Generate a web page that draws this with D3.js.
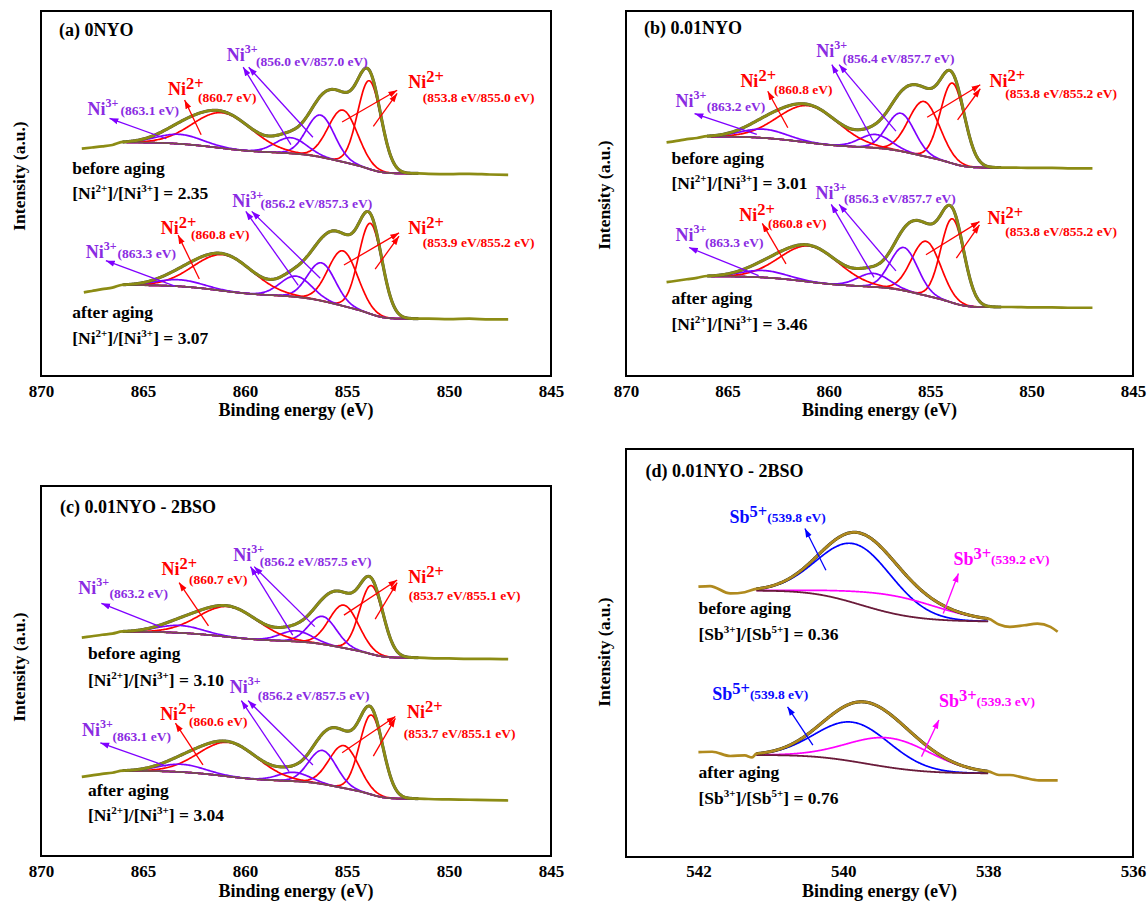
<!DOCTYPE html>
<html>
<head>
<meta charset="utf-8">
<script src="https://cdn.jsdelivr.net/npm/d3@7"></script>
<style>
  body { margin: 0; background: #fff; }
  svg { display: block; }
  svg text { font-family: "Liberation Serif", "Times New Roman", serif; font-weight: bold; }
</style>
</head>
<body>
<svg id="chart" width="1148" height="904" font-family="Liberation Serif, Times New Roman, serif" font-weight="bold"></svg>
<script>
// ---- data ----------------------------------------------------------------
const niTicks = [870, 865, 860, 855, 850, 845];
const sbTicks = [542, 540, 538, 536];
const titles = ["(a) 0NYO", "(b) 0.01NYO", "(c) 0.01NYO - 2BSO", "(d) 0.01NYO - 2BSO"];
const ratioValues = [["2.35", "3.07"], ["3.01", "3.46"], ["3.10", "3.04"], ["0.36", "0.76"]];

// fitted components: [centre eV, height above background, FWHM eV, species]
// bg: Shirley end levels [low-BE side, high-BE side]; left/right: raw tails [eV, intensity]
const aBeforePeaks = [[853.9, 24.2, 1.35, "Ni2+"], [855.2, 14.2, 1.7, "Ni2+"], [856.3, 11.5, 1.6, "Ni3+"], [857.75, 4.3, 1.8, "Ni3+"], [861.1, 9.7, 3.4, "Ni2+"], [863.2, 2.6, 2.6, "Ni3+"]];
const aBeforeBg = [55.5, 64.0];
const aBeforeLeft = [[868, 62.3], [867.5, 62.6], [867, 62.9], [866.5, 63.3]];
const aBeforeRight = [[851, 55.4], [850, 55.3], [849, 55.4], [848, 55.2], [847.1, 55.1]];

const aAfterPeaks = [[853.85, 24.8, 1.35, "Ni2+"], [855.2, 15.1, 1.7, "Ni2+"], [856.25, 10.4, 1.6, "Ni3+"], [857.5, 5.7, 1.8, "Ni3+"], [861.05, 9.9, 3.4, "Ni2+"], [863.2, 1.8, 2.6, "Ni3+"]];
const aAfterBg = [15.7, 24.9];
const aAfterLeft = [[867.9, 22.9], [867.5, 23.3], [867, 23.8], [866.5, 24.2]];
const aAfterRight = [[851, 15.7], [850, 15.6], [849, 15.7], [848, 15.5], [847.1, 15.5]];

const bBeforePeaks = [[853.9, 22.0, 1.4, "Ni2+"], [855.3, 15.0, 1.8, "Ni2+"], [856.45, 10.4, 1.6, "Ni3+"], [857.7, 3.7, 1.8, "Ni3+"], [861.0, 10.1, 3.5, "Ni2+"], [863.2, 2.4, 2.6, "Ni3+"]];
const bBeforeBg = [57.1, 65.6];
const bBeforeLeft = [[868, 64.0], [867.5, 64.4], [867, 64.9], [866.5, 65.2]];
const bBeforeRight = [[851, 57.1], [850, 57.0], [849, 57.0], [848, 56.9], [847, 56.9]];

const bAfterPeaks = [[853.9, 23.0, 1.35, "Ni2+"], [855.2, 14.9, 1.7, "Ni2+"], [856.3, 11.8, 1.6, "Ni3+"], [857.8, 3.7, 1.8, "Ni3+"], [860.95, 9.8, 3.4, "Ni2+"], [863.2, 1.9, 2.6, "Ni3+"]];
const bAfterBg = [18.9, 27.3];
const bAfterLeft = [[868, 25.7], [867.5, 26.1], [867, 26.5], [866.5, 26.9]];
const bAfterRight = [[851, 18.9], [850, 18.8], [849, 18.8], [848, 18.7], [847, 18.7]];

const cBeforePeaks = [[853.8, 18.5, 1.35, "Ni2+"], [855.15, 11.6, 1.7, "Ni2+"], [856.2, 7.5, 1.6, "Ni3+"], [857.5, 2.9, 1.8, "Ni3+"], [860.8, 8.2, 3.4, "Ni2+"], [863.2, 2.0, 2.6, "Ni3+"]];
const cBeforeBg = [53.6, 60.6];
const cBeforeLeft = [[868, 59.0], [867.5, 59.4], [867, 59.8], [866.5, 60.1]];
const cBeforeRight = [[851, 53.5], [850, 53.4], [849, 53.3], [848, 53.3], [847.1, 53.2]];

const cAfterPeaks = [[853.8, 21.5, 1.35, "Ni2+"], [855.15, 11.5, 1.7, "Ni2+"], [856.2, 9.1, 1.6, "Ni3+"], [857.6, 2.4, 1.8, "Ni3+"], [860.8, 9.2, 3.4, "Ni2+"], [863.1, 2.1, 2.6, "Ni3+"]];
const cAfterBg = [15.5, 23.0];
const cAfterLeft = [[868, 21.4], [867.5, 21.8], [867, 22.2], [866.5, 22.5]];
const cAfterRight = [[851, 15.4], [850, 15.3], [849, 15.2], [848, 15.1], [847.1, 15.0]];

const dBeforePeaks = [[539.83, 14.5, 1.2, "Sb5+"], [539.25, 4.4, 1.5, "Sb3+"]];
const dBeforeBg = [57.7, 65.3];
const dBeforeLeft = [[542.0, 66.25], [541.84, 66.4], [541.56, 64.6], [541.36, 64.9]];
const dBeforeRight = [[537.85, 57.0], [537.7, 56.4], [537.5, 56.8], [537.32, 57.2], [537.14, 56.4], [537.04, 55.2]];

const dAfterPeaks = [[539.86, 9.6, 1.2, "Sb5+"], [539.34, 7.2, 1.35, "Sb3+"]];
const dAfterBg = [20.5, 25.0];
const dAfterLeft = [[542.0, 25.7], [541.81, 25.8], [541.56, 24.75], [541.36, 24.9], [541.26, 24.4]];
const dAfterRight = [[537.85, 20.1], [537.7, 20.1], [537.5, 19.4], [537.3, 18.8], [537.04, 18.8]];

// ---- annotations (placed in data coordinates) -----------------------------
const notesA = [
  { ion: "Ni", q: "3+", sub: "(863.1 eV)", at: [867.72, 71.5], subAt: [866.1, 71.5], arrows: [[863.86, 65.0, 866.64, 70.6]] },
  { ion: "Ni", q: "2+", sub: "(860.7 eV)", at: [863.77, 77.0], subAt: [862.3, 75.0], arrows: [[862.15, 66.1, 862.96, 75.6]] },
  { ion: "Ni", q: "3+", sub: "(856.0 eV/857.0 eV)", at: [860.89, 86.2], subAt: [859.46, 84.9], arrows: [[857.75, 63.4, 860.09, 84.6], [856.67, 65.4, 859.82, 84.6]] },
  { ion: "Ni", q: "2+", sub: "(853.8 eV/855.0 eV)", at: [852.0, 78.8], subAt: [851.29, 75.2], arrows: [[855.24, 69.6, 852.54, 78.3], [853.71, 68.4, 852.54, 77.4]] },
  { ion: "Ni", q: "3+", sub: "(863.3 eV)", at: [867.81, 32.2], subAt: [866.25, 32.2], arrows: [[863.44, 24.6, 866.82, 31.6]] },
  { ion: "Ni", q: "2+", sub: "(860.8 eV)", at: [864.13, 39.0], subAt: [862.65, 37.6], arrows: [[862.24, 26.6, 863.28, 38.6]] },
  { ion: "Ni", q: "3+", sub: "(856.2 eV/857.3 eV)", at: [860.62, 46.3], subAt: [859.24, 46.1], arrows: [[857.39, 24.8, 859.96, 45.1], [856.31, 26.8, 859.67, 45.1]] },
  { ion: "Ni", q: "2+", sub: "(853.9 eV/855.2 eV)", at: [852.0, 39.0], subAt: [851.29, 35.4], arrows: [[855.15, 30.4, 852.45, 39.2], [853.62, 29.3, 852.45, 38.3]] },
];
const notesB = [
  { ion: "Ni", q: "3+", sub: "(863.2 eV)", at: [867.56, 73.6], subAt: [866.02, 72.5], arrows: [[863.55, 66.2, 866.62, 71.9]] },
  { ion: "Ni", q: "2+", sub: "(860.8 eV)", at: [864.36, 79.3], subAt: [862.7, 77.3], arrows: [[862.02, 68.0, 863.01, 78.0]] },
  { ion: "Ni", q: "3+", sub: "(856.4 eV/857.7 eV)", at: [860.62, 87.5], subAt: [859.31, 85.7], arrows: [[857.77, 63.9, 859.85, 85.3], [856.69, 67.1, 859.49, 85.3]] },
  { ion: "Ni", q: "2+", sub: "(853.8 eV/855.2 eV)", at: [852.08, 79.3], subAt: [851.3, 76.2], arrows: [[855.15, 70.9, 852.53, 79.8], [853.65, 70.2, 852.53, 78.7]] },
  { ion: "Ni", q: "3+", sub: "(863.3 eV)", at: [867.56, 37.0], subAt: [866.1, 35.4], arrows: [[863.46, 27.5, 866.89, 35.2]] },
  { ion: "Ni", q: "2+", sub: "(860.8 eV)", at: [864.42, 42.5], subAt: [863.0, 40.5], arrows: [[862.11, 30.7, 863.28, 41.8]] },
  { ion: "Ni", q: "3+", sub: "(856.3 eV/857.7 eV)", at: [860.66, 48.4], subAt: [859.25, 47.5], arrows: [[857.77, 27.0, 859.88, 47.0], [856.69, 28.8, 859.49, 47.0]] },
  { ion: "Ni", q: "2+", sub: "(853.8 eV/855.2 eV)", at: [852.17, 41.6], subAt: [851.3, 38.4], arrows: [[855.21, 33.2, 852.57, 42.3], [853.71, 32.3, 852.57, 41.4]] },
];
const notesC = [
  { ion: "Ni", q: "3+", sub: "(863.2 eV)", at: [868.17, 70.8], subAt: [866.64, 69.6], arrows: [[864.13, 61.9, 867.04, 68.3]] },
  { ion: "Ni", q: "2+", sub: "(860.7 eV)", at: [864.09, 75.9], subAt: [862.75, 73.5], arrows: [[861.79, 62.2, 863.23, 73.9]] },
  { ion: "Ni", q: "3+", sub: "(856.2 eV/857.5 eV)", at: [860.57, 79.7], subAt: [859.28, 78.4], arrows: [[857.66, 59.7, 859.73, 78.2], [856.58, 62.0, 859.55, 78.2]] },
  { ion: "Ni", q: "2+", sub: "(853.7 eV/855.1 eV)", at: [852.0, 73.7], subAt: [851.97, 69.2], arrows: [[855.15, 65.1, 852.54, 74.6], [853.62, 64.0, 852.54, 73.9]] },
  { ion: "Ni", q: "3+", sub: "(863.1 eV)", at: [867.99, 32.3], subAt: [866.5, 31.2], arrows: [[863.86, 24.3, 867.09, 30.6]] },
  { ion: "Ni", q: "2+", sub: "(860.6 eV)", at: [864.16, 36.8], subAt: [862.75, 35.2], arrows: [[862.06, 24.6, 863.41, 35.9]] },
  { ion: "Ni", q: "3+", sub: "(856.2 eV/857.5 eV)", at: [860.75, 44.0], subAt: [859.37, 42.2], arrows: [[857.84, 22.8, 860.18, 42.0], [856.67, 24.6, 859.85, 42.0]] },
  { ion: "Ni", q: "2+", sub: "(853.7 eV/855.1 eV)", at: [852.06, 37.2], subAt: [852.22, 31.8], arrows: [[855.24, 27.9, 852.63, 37.7], [853.71, 27.0, 852.63, 37.2]] },
];
const notesD = [
  { ion: "Sb", q: "5+", sub: "(539.8 eV)", at: [541.57, 81.9], arrows: [[540.24, 70.3, 540.53, 80.5]] },
  { ion: "Sb", q: "3+", sub: "(539.2 eV)", at: [538.48, 71.6], arrows: [[538.62, 59.7, 538.41, 69.5]] },
  { ion: "Sb", q: "5+", sub: "(539.8 eV)", at: [541.81, 38.6], arrows: [[540.42, 27.4, 540.77, 36.8]] },
  { ion: "Sb", q: "3+", sub: "(539.3 eV)", at: [538.68, 36.8], arrows: [[538.92, 24.6, 538.68, 33.6]] },
];

// ---- panel layout ----------------------------------------------------------
const panels = [
  { box: { l: 41, t: 11, r: 551, b: 376 }, domain: [870, 845], ticks: niTicks, fit: [851.5, 866], comp: [851.8, 865.8], step: 0.05,
    el: "Ni", q: ["2+", "3+"], textAt: [868.47, [55.3, 48.5, 16.0, 8.8]], titleAt: [869.12, 93.2], notes: notesA, ylab: [19, 176], tickY: 397, titleY: 416,
    spectra: [[aBeforePeaks, aBeforeBg, aBeforeLeft, aBeforeRight], [aAfterPeaks, aAfterBg, aAfterLeft, aAfterRight]] },
  { box: { l: 626, t: 11, r: 1133, b: 376 }, domain: [870, 845], ticks: niTicks, fit: [851.5, 866], comp: [851.8, 865.8], step: 0.05,
    el: "Ni", q: ["2+", "3+"], textAt: [867.76, [58.0, 51.1, 19.7, 12.5]], titleAt: [869.11, 93.6], notes: notesB, ylab: [604, 195], tickY: 397, titleY: 416,
    spectra: [[bBeforePeaks, bBeforeBg, bBeforeLeft, bBeforeRight], [bAfterPeaks, bAfterBg, bAfterLeft, bAfterRight]] },
  { box: { l: 41, t: 486, r: 551, b: 856 }, domain: [870, 845], ticks: niTicks, fit: [851.5, 866], comp: [851.8, 865.8], step: 0.05,
    el: "Ni", q: ["2+", "3+"], textAt: [867.7, [53.2, 45.9, 16.2, 9.5]], titleAt: [869.07, 92.6], notes: notesC, ylab: [19, 667], tickY: 877, titleY: 897,
    spectra: [[cBeforePeaks, cBeforeBg, cBeforeLeft, cBeforeRight], [cAfterPeaks, cAfterBg, cAfterLeft, cAfterRight]] },
  { box: { l: 626, t: 449, r: 1133, b: 857 }, domain: [543, 536], ticks: sbTicks, fit: [538.0, 541.2], comp: [538.0, 541.2], step: 0.01,
    el: "Sb", q: ["3+", "5+"], textAt: [542.0, [59.6, 53.2, 19.3, 13.0]], titleAt: [542.73, 93.1], notes: notesD, ylab: [604, 652], tickY: 877, titleY: 897,
    spectra: [[dBeforePeaks, dBeforeBg, dBeforeLeft, dBeforeRight], [dAfterPeaks, dAfterBg, dAfterLeft, dAfterRight]] },
];

const lineColor = { "Ni2+": "#ff0000", "Ni3+": "#7f00ff", "Sb5+": "#0000ff", "Sb3+": "#ff00ff" };
const textColor = { "Ni2+": "#ff0000", "Ni3+": "#8a2be2", "Sb5+": "#0a0aff", "Sb3+": "#ff00ff" };
const serif = "Liberation Serif, Times New Roman, serif";

// ---- peak model helpers ----------------------------------------------------
function erf(z) {
  const s = Math.sign(z), a = Math.abs(z), t = 1 / (1 + 0.3275911 * a);
  const y = 1 - ((((1.061405429 * t - 1.453152027) * t + 1.421413741) * t - 0.284496736) * t + 0.254829592) * t * Math.exp(-a * a);
  return s * y;
}
const gauss = (p, e) => p[1] * Math.exp(-4 * Math.LN2 * (e - p[0]) ** 2 / (p[2] * p[2]));
const sigma = p => p[2] / (2 * Math.sqrt(2 * Math.LN2));
const cdf = (p, e) => 0.5 * (1 + erf((e - p[0]) / (sigma(p) * Math.SQRT2)));
function shirley(peaks, bg, e) {
  const tot = d3.sum(peaks, p => p[1] * p[2]);
  return bg[0] + (bg[1] - bg[0]) * d3.sum(peaks, p => p[1] * p[2] * cdf(p, e)) / tot;
}

// ---- drawing ---------------------------------------------------------------
const svg = d3.select("#chart");
const defs = svg.append("defs");
Object.entries(lineColor).forEach(([k, c]) => {
  defs.append("marker")
    .attr("id", "ah" + k.replace("+", "p"))
    .attr("viewBox", "0 -4 10 8")
    .attr("refX", 10).attr("refY", 0)
    .attr("markerUnits", "userSpaceOnUse")
    .attr("markerWidth", 9).attr("markerHeight", 7)
    .attr("orient", "auto")
    .append("path").attr("d", "M0,-3.5L10,0L0,3.5Z").attr("fill", c);
});

function ratioText(g, x, y, el, q, v) {
  const t = g.append("text").attr("x", x).attr("y", y).attr("font-size", 17.5).attr("fill", "#000");
  t.append("tspan").text("[" + el);
  t.append("tspan").attr("font-size", 11).attr("dy", -7).text(q[0]);
  t.append("tspan").attr("dy", 7).text("]/[" + el);
  t.append("tspan").attr("font-size", 11).attr("dy", -7).text(q[1]);
  t.append("tspan").attr("dy", 7).text("] = " + v);
}

panels.forEach((P, pi) => {
  const { l, t, r, b } = P.box;
  const x = d3.scaleLinear().domain(P.domain).range([l, r]);
  const y = d3.scaleLinear().domain([0, 100]).range([b, t]);
  const g = svg.append("g").attr("font-family", serif).attr("font-weight", "bold");
  const line = d3.line().x(d => x(d[0])).y(d => y(d[1])).curve(d3.curveMonotoneX);
  const isSb = P.el === "Sb";

  P.spectra.forEach(([peaks, bg, left, right]) => {
    const grid = d3.range(P.fit[0], P.fit[1] + 1e-9, P.step);
    const cgrid = d3.range(P.comp[0], P.comp[1] + 1e-9, P.step);
    const env = grid.map(e => [e, shirley(peaks, bg, e) + d3.sum(peaks, p => gauss(p, e))]);
    const raw = [...right, ...env, ...left].sort((m, n) => m[0] - n[0]);

    // components
    peaks.forEach(p => {
      g.append("path")
        .datum(cgrid.map(e => [e, shirley(peaks, bg, e) + gauss(p, e)]))
        .attr("d", line).attr("fill", "none")
        .attr("stroke", lineColor[p[3]]).attr("stroke-width", 1.7);
    });
    // background
    g.append("path")
      .datum(grid.map(e => [e, shirley(peaks, bg, e)]))
      .attr("d", line).attr("fill", "none")
      .attr("stroke", isSb ? "#6a1b3a" : "#7a4e4e").attr("stroke-width", 1.8);
    // envelope + measured spectrum
    g.append("path").datum(env).attr("d", line).attr("fill", "none")
      .attr("stroke", isSb ? "#111" : "#4a4a4a").attr("stroke-width", 3.1);
    g.append("path").datum(raw).attr("d", line).attr("fill", "none")
      .attr("stroke", isSb ? "#b08a1e" : "#8c8c14").attr("stroke-width", 2.7);
  });

  // frame
  g.append("rect").attr("x", l).attr("y", t).attr("width", r - l).attr("height", b - t)
    .attr("fill", "none").attr("stroke", "#000").attr("stroke-width", 2);

  // x axis labels (no tick marks in the original)
  const ax = g.append("g").attr("transform", `translate(0,${b})`)
    .call(d3.axisBottom(x).tickValues(P.ticks).tickSize(0).tickPadding(0).tickFormat(d3.format("d")));
  ax.attr("font-family", serif).attr("font-size", 17);
  ax.select(".domain").remove();
  ax.selectAll("text").attr("dy", null).attr("y", P.tickY - b)
    .attr("font-family", serif).attr("font-size", 17).attr("font-weight", "bold").attr("fill", "#000");

  g.append("text").attr("x", (l + r) / 2).attr("y", P.titleY).attr("text-anchor", "middle")
    .attr("font-size", 18).text("Binding energy (eV)");
  g.append("text").attr("transform", `translate(${P.ylab[0] + 6},${P.ylab[1]}) rotate(-90)`)
    .attr("text-anchor", "middle").attr("font-size", 17.5).text("Intensity (a.u.)");

  g.append("text").attr("x", x(P.titleAt[0])).attr("y", y(P.titleAt[1]))
    .attr("font-size", 18).text(titles[pi]);

  const tx = x(P.textAt[0]), ty = P.textAt[1];
  g.append("text").attr("x", tx).attr("y", y(ty[0])).attr("font-size", 17.5).text("before aging");
  ratioText(g, tx, y(ty[1]), P.el, P.q, ratioValues[pi][0]);
  g.append("text").attr("x", tx).attr("y", y(ty[2])).attr("font-size", 17.5).text("after aging");
  ratioText(g, tx, y(ty[3]), P.el, P.q, ratioValues[pi][1]);

  // peak labels and arrows
  P.notes.forEach(n => {
    const key = n.ion + n.q;
    n.arrows.forEach(a => {
      g.append("line")
        .attr("x1", x(a[0])).attr("y1", y(a[1])).attr("x2", x(a[2])).attr("y2", y(a[3]))
        .attr("stroke", lineColor[key]).attr("stroke-width", 1.3)
        .attr("marker-end", `url(#ah${key.replace("+", "p")})`);
    });
    const big = n.q === "3+" && !isSb ? 12 : 16.5;
    const txt = g.append("text").attr("x", x(n.at[0])).attr("y", y(n.at[1])).attr("fill", textColor[key]);
    txt.append("tspan").attr("font-size", 18).text(n.ion);
    txt.append("tspan").attr("font-size", big).attr("dy", big > 14 ? -6 : -8).text(n.q);
    if (isSb) {
      txt.append("tspan").attr("font-size", 13.5).attr("dy", 5).text(n.sub);
    } else {
      g.append("text").attr("x", x(n.subAt[0])).attr("y", y(n.subAt[1]))
        .attr("font-size", 13.5).attr("fill", textColor[key]).text(n.sub);
    }
  });
});
</script>
</body>
</html>
